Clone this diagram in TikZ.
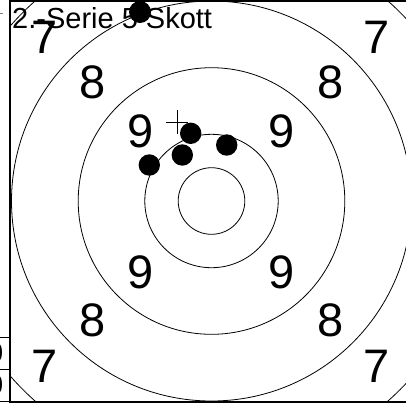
\documentclass[tikz,border=0pt]{standalone}
\usepackage{fontspec}
\setmainfont{Liberation Sans}
\begin{document}
\begin{tikzpicture}[x=1pt,y=-1pt,
  ring/.style={draw=black,line width=0.8pt},
  digit/.style={inner sep=0pt,anchor=center,font=\fontsize{47}{47}\selectfont},
  shot/.style={fill=black,draw=none},
  frameline/.style={draw=black,line width=1.4pt},
  cellline/.style={draw=black,line width=1pt}]
\useasboundingbox (0,0) rectangle (406,405);
\coordinate (c) at (211.5,201);
\begin{scope}
  \clip (10,1) rectangle (406,402);
  \foreach \r in {33.3,66.7,133.3,200,266.7} \draw[ring] (c) circle[radius=\r];
\end{scope}
% ring numbers
\node[digit] (s7a) at (45,37) {7};
\node[digit] (s7b) at (377,37) {7};
\node[digit] (s7c) at (45,366) {7};
\node[digit] (s7d) at (377,366) {7};
\node[digit] (s8a) at (92.5,82) {8};
\node[digit] (s8b) at (330.5,82) {8};
\node[digit] (s8c) at (92.5,320) {8};
\node[digit] (s8d) at (330.5,320) {8};
\node[digit] (s9a) at (140.5,131) {9};
\node[digit] (s9b) at (282,131) {9};
\node[digit] (s9c) at (140.5,272) {9};
\node[digit] (s9d) at (282,272) {9};
% title
\node[inner sep=0pt,anchor=base west,font=\fontsize{29}{29}\selectfont] (title) at (12,28) {2.-Serie 5 Skott};
% center mark
\coordinate (m) at (177,122);
\draw[line width=0.9pt] ([xshift=-11pt]m) -- ([xshift=11pt]m);
\draw[line width=0.9pt] ([yshift=-12pt]m) -- ([yshift=12pt]m);
% shots
\fill[shot] (140,12) circle[radius=11];
\fill[shot] (190.7,133.3) circle[radius=10.7];
\fill[shot] (226.7,145) circle[radius=10.7];
\fill[shot] (182.3,155) circle[radius=10.7];
\fill[shot] (149.3,165) circle[radius=10.7];
% frame
\draw[frameline] (406,1) -- (10,1) -- (10,402) -- (406,402);
% left cells
\draw[cellline] (0,337) -- (10,337);
\draw[cellline] (0,369) -- (10,369);
\draw[cellline] (0,401) -- (10,401);
\node[inner sep=0pt,anchor=east,font=\fontsize{28}{28}\selectfont] (z1) at (3.5,353) {0};
\node[inner sep=0pt,anchor=east,font=\fontsize{28}{28}\selectfont] (z2) at (3.5,385) {0};
\draw[gray,line width=0.8pt] (0,13) -- (3,13);
\end{tikzpicture}
\end{document}
